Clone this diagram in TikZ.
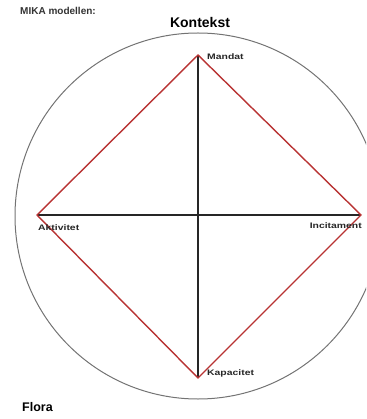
\documentclass[tikz,border=0pt]{standalone}
\usepackage{fontspec}
\setmainfont{Liberation Sans}
\newfontfamily\widefont[FakeStretch=1.3]{Liberation Sans}
\usetikzlibrary{positioning}

\begin{document}
\begin{tikzpicture}[x=1pt,y=-1pt,lbl/.style={font=\widefont\bfseries\fontsize{8}{9}\selectfont,inner sep=0pt,black!85},axis/.style={line width=1.3pt,black!85},edge/.style={line width=1.4pt,red!65!black!80},ring/.style={line width=1pt,black!55}]
\useasboundingbox (0,0) rectangle (366,419);
\clip (0,0) rectangle (366,419);
\coordinate (c) at (198,216);
\coordinate (man) at (198,55);
\coordinate (akt) at (37,215);
\coordinate (inc) at (361,215);
\coordinate (kap) at (198,378);
\draw[ring] (c) circle[radius=183];
\draw[axis] (man)--(kap);\draw[axis] (akt)--(inc);
\draw[edge] (man)--(inc)--(kap)--(akt)--cycle;
\node[lbl,anchor=west] (lman) at (207,57) {Mandat};
\node[lbl,anchor=west] (lakt) at (38,228) {Aktivitet};
\node[lbl,anchor=east] (linc) at (362,226) {Incitament};
\node[lbl,anchor=west] (lkap) at (207,373) {Kapacitet};
\node[font=\bfseries\fontsize{10}{12}\selectfont,anchor=west,inner sep=0pt,black!80] (title) at (20,11) {MIKA modellen:};
\node[font=\bfseries\fontsize{14}{16}\selectfont,inner sep=0pt] (ctx) at (200,23) {Kontekst};
\node[font=\bfseries\fontsize{12.5}{14}\selectfont,anchor=west,inner sep=0pt] (flora) at (22,407) {Flora};
\end{tikzpicture}
\end{document}
